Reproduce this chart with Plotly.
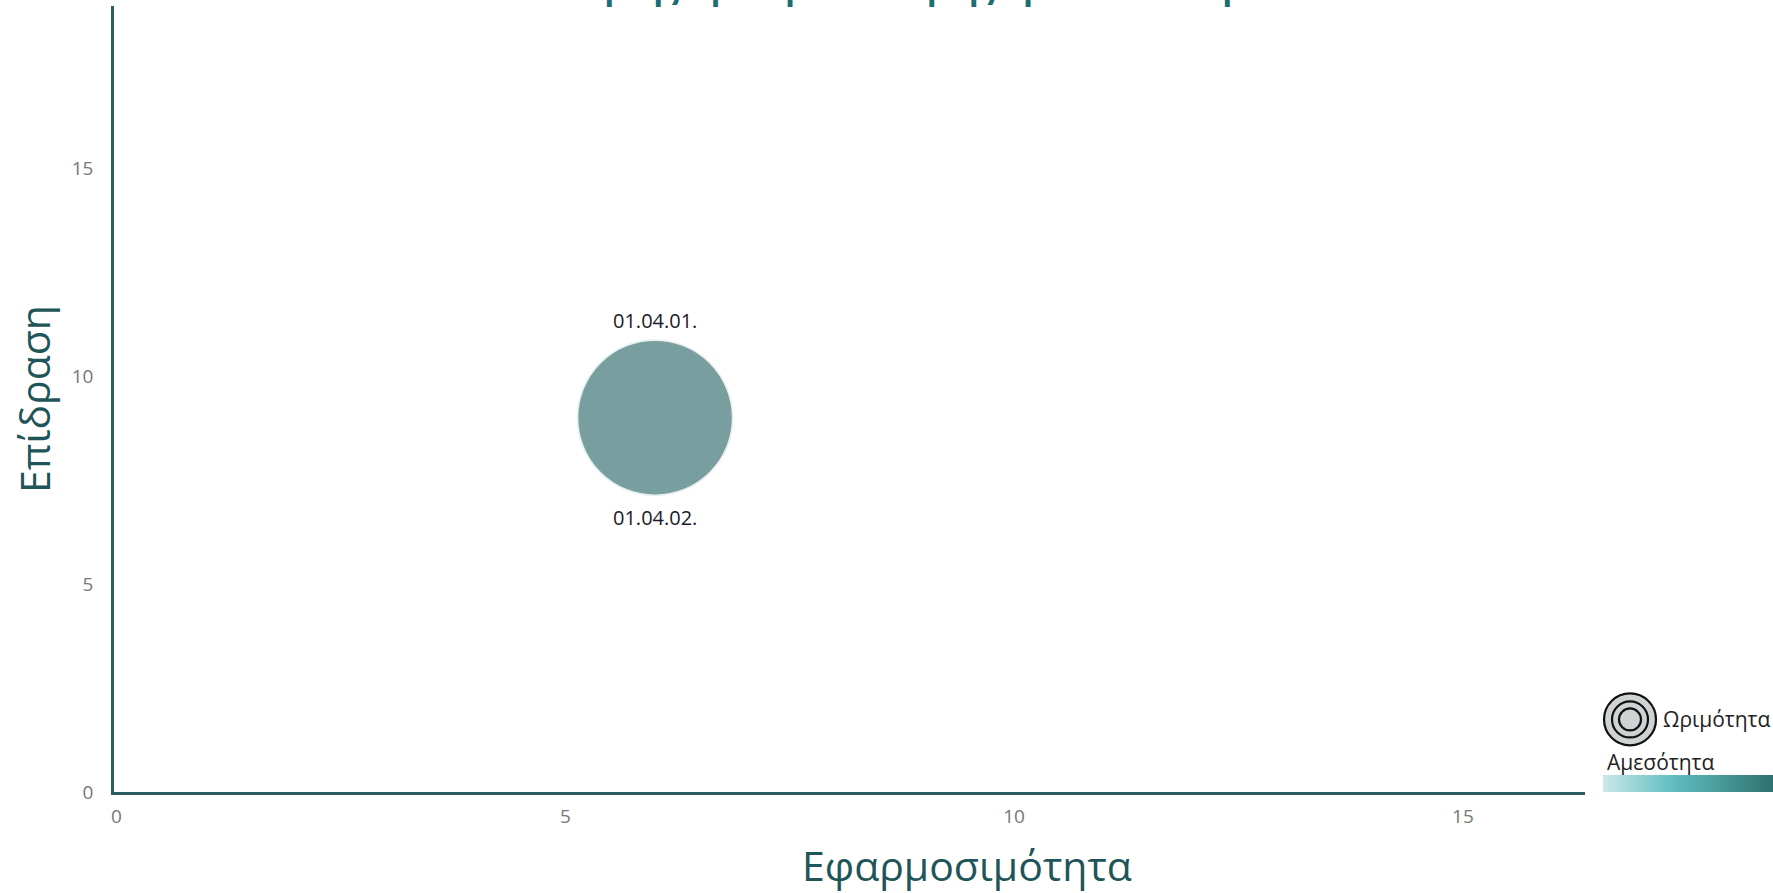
import plotly.graph_objects as go

# data
codes = ["01.04.01.", "01.04.02."]
applicability = [6, 6]      # Εφαρμοσιμότητα
impact = [9, 9]             # Επίδραση
label_side = [1, -1]        # label above / below the bubble
x_ticks = [0, 5, 10, 15]
y_ticks = [0, 5, 10, 15]
title_text = "Χάρτης Προτεραιοποίησης Δράσεων Μέτρου 01.04."
x_title = "Εφαρμοσιμότητα"
y_title = "Επίδραση"

FONT = "Open Sans"
AXIS_COL = "#2a5e5f"
TITLE_COL = "#1f5558"

fig = go.Figure()

fig.add_trace(go.Scatter(
    x=applicability, y=impact, mode="markers",
    marker=dict(size=155, color="#789e9f", line=dict(color="#e8f0f0", width=1.5)),
    hoverinfo="skip", showlegend=False,
))

# colour scale trace for the "Αμεσότητα" gradient bar
fig.add_trace(go.Scatter(
    x=[None], y=[None], mode="markers", showlegend=False, hoverinfo="skip",
    marker=dict(
        color=[0], cmin=0, cmax=1, size=1,
        colorscale=[[0, "#cce8ea"], [0.4, "#62bfc2"], [1, "#2e7170"]],
        showscale=True,
        colorbar=dict(
            orientation="h", lenmode="pixels", len=170, thickness=17,
            x=1.0122, xanchor="left", y=0.0006, yanchor="bottom",
            xpad=0, ypad=0, outlinewidth=0, showticklabels=False, ticks="",
        ),
    ),
))

annotations = []
for xv, yv, code, side in zip(applicability, impact, codes, label_side):
    annotations.append(dict(
        text=code, x=xv, y=yv, xref="x", yref="y", showarrow=False,
        xanchor="center", yanchor="middle", yshift=97 if side > 0 else -100,
        font=dict(family=FONT, size=20, color="#1a1a2a"),
    ))

annotations += [
    dict(text="Ωριμότητα", xref="paper", yref="paper", x=1.0517, y=0.0923,
         xanchor="left", yanchor="middle", showarrow=False,
         font=dict(family=FONT, size=21, color="#222222")),
    dict(text="Αμεσότητα", xref="paper", yref="paper", x=1.0136, y=0.0376,
         xanchor="left", yanchor="middle", showarrow=False,
         font=dict(family=FONT, size=21, color="#222222")),
    dict(text="<b>" + title_text + "</b>", xref="paper", yref="paper", x=0.584, y=1,
         xanchor="center", yanchor="bottom", yshift=-4, showarrow=False,
         font=dict(family=FONT, size=32, color="#1d6d75")),
    dict(text=x_title, xref="paper", yref="paper", x=0.58, y=-0.0935,
         xanchor="center", yanchor="middle", showarrow=False,
         font=dict(family=FONT, size=41, color=TITLE_COL)),
]

shapes = []
for r in [26, 18, 11]:
    shapes.append(dict(
        type="circle", xref="paper", yref="paper", xsizemode="pixel", ysizemode="pixel",
        xanchor=1.0306, yanchor=0.0923, x0=-r, x1=r, y0=-r, y1=r,
        fillcolor="#cfd3d4", line=dict(color="#111111", width=2.2),
    ))

fig.update_layout(
    width=1773, height=893,
    margin=dict(l=114, r=188, t=6, b=101, autoexpand=False),
    plot_bgcolor="white", paper_bgcolor="white",
    font=dict(family=FONT),
    xaxis=dict(
        range=[-0.028, 16.36], tickvals=x_ticks, showgrid=False, zeroline=False,
        showline=True, linecolor=AXIS_COL, linewidth=2.5, ticks="", automargin=False,
        tickfont=dict(family=FONT, size=19, color="#777777"), ticklabelstandoff=5,
    ),
    yaxis=dict(
        range=[0, 18.9], tickvals=y_ticks, showgrid=False, zeroline=False,
        showline=True, linecolor=AXIS_COL, linewidth=2.5, ticks="", automargin=False,
        tickfont=dict(family=FONT, size=19, color="#777777"),
        ticklabelstandoff=14,
        title=dict(text=y_title, font=dict(family=FONT, size=41, color=TITLE_COL), standoff=9),
    ),
    shapes=shapes,
    annotations=annotations,
)

fig.write_html(
    "out.html",
    config={"displayModeBar": False},
    post_script="document.body.style.margin='0';document.body.style.overflow='hidden';",
)
